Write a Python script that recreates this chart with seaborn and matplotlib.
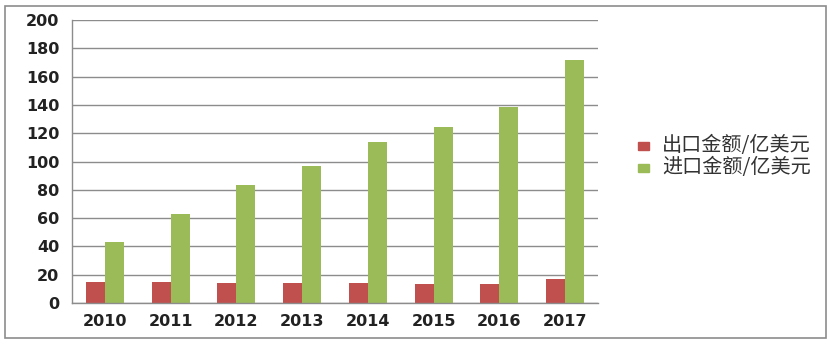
import matplotlib
matplotlib.use("Agg")
import matplotlib.pyplot as plt
import seaborn as sns
import pandas as pd
from matplotlib.patches import Rectangle

years = ["2010", "2011", "2012", "2013", "2014", "2015", "2016", "2017"]
export_vals = [15, 15, 14, 14, 14, 13.5, 13.5, 17]
import_vals = [43, 63, 83.5, 97, 114, 124.5, 138.5, 172]
series_names = ["出口金额/亿美元", "进口金额/亿美元"]
colors = ["#C0504D", "#9BBB59"]
y_ticks = [0, 20, 40, 60, 80, 100, 120, 140, 160, 180, 200]

df = pd.DataFrame({
    "year": years * 2,
    "value": export_vals + import_vals,
    "series": [series_names[0]] * len(years) + [series_names[1]] * len(years),
})

sns.set_style("white")
plt.rcParams["font.family"] = ["DejaVu Sans", "Noto Sans CJK SC"]

W, H = 833, 344
fig = plt.figure(figsize=(W / 100, H / 100), dpi=100)
ax = fig.add_axes([72 / W, 1 - 303 / H, (598 - 72) / W, (303 - 20) / H])

sns.barplot(data=df, x="year", y="value", hue="series", palette=colors,
            width=0.58, ax=ax, legend=False, saturation=1, gap=0, linewidth=0)

ax.set_ylim(0, 200)
ax.set_yticks(y_ticks)
ax.set_xlim(-0.5, len(years) - 0.5)
ax.set_xlabel("")
ax.set_ylabel("")
ax.yaxis.grid(True, color="#8c8c8c", linewidth=1)
ax.set_axisbelow(True)
for s in ["top", "right"]:
    ax.spines[s].set_visible(False)
for s in ["left", "bottom"]:
    ax.spines[s].set_color("#8c8c8c")
    ax.spines[s].set_linewidth(1)

ax.tick_params(axis="y", length=5, color="#8c8c8c", width=1, labelsize=11.5, pad=4)
ax.tick_params(axis="x", length=0, labelsize=11.5, pad=8)
for lab in ax.get_xticklabels() + ax.get_yticklabels():
    lab.set_fontweight("bold")
    lab.set_color("#222222")
# category boundary ticks
ax.set_xticks([i - 0.5 for i in range(len(years) + 1)], minor=True)
ax.tick_params(axis="x", which="minor", length=5, color="#8c8c8c", width=1)

# legend
for i, (name, c) in enumerate(zip(series_names, colors)):
    yc = 1 - (146 + i * 22) / H
    fig.patches.append(Rectangle((638 / W, yc - 4 / H), 11 / W, 8 / H,
                                 transform=fig.transFigure, color=c, zorder=5))
    fig.text(662 / W, yc, name, fontsize=14.5, va="center", ha="left",
             family=["Noto Sans CJK SC", "DejaVu Sans"], color="#333333",
             fontweight="light", zorder=5)

# clip legend at the border
fig.patches.append(Rectangle((826 / W, 0), 1 - 826 / W, 1, transform=fig.transFigure,
                             color="white", zorder=20))
# outer border
fig.patches.append(Rectangle((5 / W, 1 - 338 / H), (826 - 5) / W, (338 - 6) / H,
                             transform=fig.transFigure, fill=False,
                             edgecolor="#8c8c8c", linewidth=1.2, zorder=21))

fig.savefig("out.png", dpi=100)
